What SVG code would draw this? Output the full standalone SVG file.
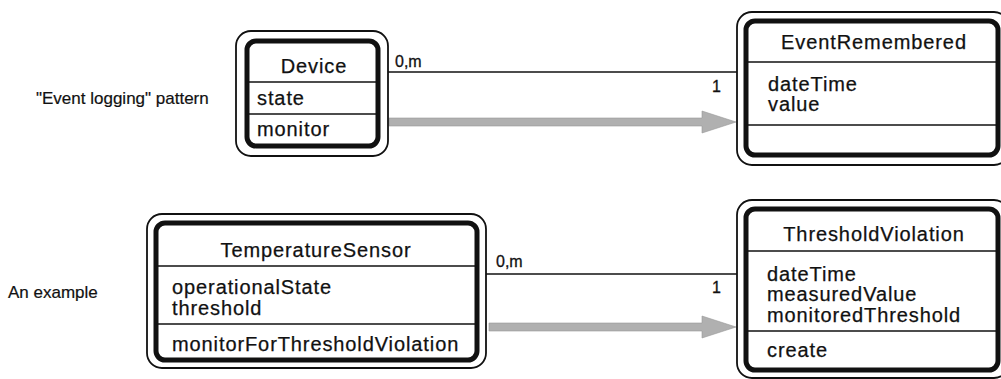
<svg xmlns="http://www.w3.org/2000/svg" width="1001" height="379" viewBox="0 0 1001 379">
<style>
.outer{fill:#fff;stroke:#111;stroke-width:1.8}
.inner{fill:none;stroke:#111;stroke-width:5}
.div{stroke:#111;stroke-width:1.5}
.t{font-family:"Liberation Sans",Arial,sans-serif;font-size:20px;fill:#111;stroke:#111;stroke-width:0.25;letter-spacing:0.9px}
.c{text-anchor:middle}
.lbl{font-family:"Liberation Sans",Arial,sans-serif;font-size:16px;fill:#111;stroke:#111;stroke-width:0.3}
.side{font-family:"Liberation Sans",Arial,sans-serif;font-size:17px;fill:#111;stroke:#111;stroke-width:0.2}
.assoc{stroke:#111;stroke-width:1.5;fill:none}
.flow{fill:#b0b0b0;stroke:#999;stroke-width:0.6}
</style>
<rect width="1001" height="379" fill="#fff"/>
<text class="side" x="36" y="104">"Event logging" pattern</text>
<text class="side" x="8" y="298">An example</text>
<g id="connectors">
<line class="assoc" x1="388" y1="72" x2="737" y2="72"/>
<text class="lbl" x="395" y="67">0,m</text>
<text class="lbl" x="712" y="92">1</text>
<polygon class="flow" points="389,118 702,118 702,111 736,122 702,133 702,126 389,126"/>
<line class="assoc" x1="486" y1="274" x2="737" y2="274"/>
<text class="lbl" x="496" y="267">0,m</text>
<text class="lbl" x="712" y="293">1</text>
<polygon class="flow" points="489,323 702,323 702,316 736,327 702,338 702,331 489,331"/>
</g>
<g id="device">
<rect class="outer" x="236" y="31" width="152" height="125" rx="15"/>
<rect class="inner" x="247" y="41" width="131" height="105" rx="9"/>
<line class="div" x1="247" y1="82" x2="378" y2="82"/>
<line class="div" x1="247" y1="114" x2="378" y2="114"/>
<text class="t c" x="314" y="73">Device</text>
<text class="t" x="257" y="105">state</text>
<text class="t" x="257" y="136">monitor</text>
</g>
<g id="eventRemembered">
<rect class="outer" x="737" y="12" width="272" height="153" rx="15"/>
<rect class="inner" x="746" y="21" width="252" height="134" rx="9"/>
<line class="div" x1="746" y1="62" x2="998" y2="62"/>
<line class="div" x1="746" y1="125" x2="998" y2="125"/>
<text class="t c" x="874" y="49">EventRemembered</text>
<text class="t" x="768" y="91">dateTime</text>
<text class="t" x="768" y="111">value</text>
</g>
<g id="temperatureSensor">
<rect class="outer" x="147" y="214" width="339" height="154" rx="15"/>
<rect class="inner" x="156" y="223" width="321" height="137" rx="9"/>
<line class="div" x1="156" y1="266" x2="477" y2="266"/>
<line class="div" x1="156" y1="324" x2="477" y2="324"/>
<text class="t c" x="316" y="257">TemperatureSensor</text>
<text class="t" x="172" y="294">operationalState</text>
<text class="t" x="172" y="315">threshold</text>
<text class="t" x="172" y="351">monitorForThresholdViolation</text>
</g>
<g id="thresholdViolation">
<rect class="outer" x="737" y="200" width="272" height="178" rx="15"/>
<rect class="inner" x="746" y="209" width="252" height="161" rx="9"/>
<line class="div" x1="746" y1="251" x2="998" y2="251"/>
<line class="div" x1="746" y1="331" x2="998" y2="331"/>
<text class="t c" x="874" y="241">ThresholdViolation</text>
<text class="t" x="767" y="281">dateTime</text>
<text class="t" x="767" y="301">measuredValue</text>
<text class="t" x="767" y="322">monitoredThreshold</text>
<text class="t" x="767" y="357">create</text>
</g>
</svg>
